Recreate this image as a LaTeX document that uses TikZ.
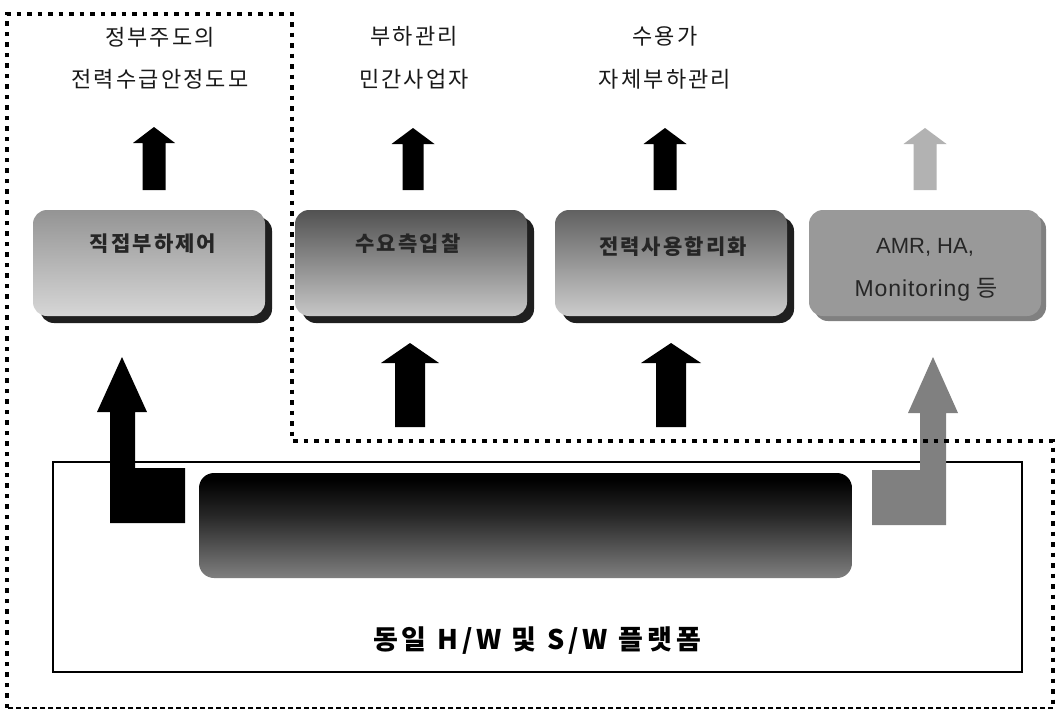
\documentclass[tikz,border=0pt]{standalone}
\usepackage{fontspec}
\setmainfont{Noto Sans CJK KR}
\newfontfamily\latinfont{Liberation Sans}
\usetikzlibrary{shadows}
\pgfdeclareverticalshading{barshade}{100bp}{color(0bp)=(black!45); color(25bp)=(black!50); color(55bp)=(black!85); color(72bp)=(black); color(100bp)=(black)}
\tikzset{
  toplabel/.style={font=\fontsize{22}{26}\selectfont\addfontfeature{LetterSpace=10}, inner sep=0pt, text=black!90},
  boxtext/.style={font=\fontsize{21}{25}\selectfont\bfseries\addfontfeature{LetterSpace=10}, inner sep=0pt, text=black!85},
  panel/.style={rounded corners=14pt, minimum width=232pt, minimum height=106pt, inner sep=0pt,
    drop shadow={shadow xshift=7pt, shadow yshift=-7pt, fill=black!88, opacity=1}},
  lightpanel/.style={rounded corners=14pt, minimum width=232pt, minimum height=106pt, inner sep=0pt,
    drop shadow={shadow xshift=5pt, shadow yshift=-5pt, fill=black!50, opacity=1}},
  dotline/.style={line width=3.6pt, dash pattern=on 4.5pt off 6pt},
  thindash/.style={line width=2.2pt, dash pattern=on 5pt off 3pt},
  pics/uparr/.style args={#1/#2/#3/#4}{code={
    \fill (-#2/2,0) -- (-#2/2,-#1+#4) -- (-#3/2,-#1+#4) -- (0,-#1) -- (#3/2,-#1+#4) -- (#2/2,-#1+#4) -- (#2/2,0) -- cycle;}}
}
\begin{document}
\begin{tikzpicture}[x=1pt,y=-1pt]
\useasboundingbox (0,0) rectangle (1056,712);
\fill[white] (0,0) rectangle (1056,712);

% top labels
\node[toplabel] (la1) at (160,37) {정부주도의};
\node[toplabel] (lb1) at (160,79) {전력수급안정도모};
\node[toplabel] (la2) at (414,36) {부하관리};
\node[toplabel] (lb2) at (414,79) {민간사업자};
\node[toplabel] (la3) at (665,36) {수용가};
\node[toplabel] (lb3) at (665,79) {자체부하관리};

% small arrows
\pic[black] at (154,190) {uparr=63/23/42/16};
\pic[black] at (413,190) {uparr=62/21/43/16};
\pic[black] at (665,190) {uparr=62/23/43/16};
\pic[black!30] at (925,190) {uparr=62/23/43/16};

% panels
\node[panel, top color=black!42, bottom color=black!16] (b1) at (149,263) {};
\node[panel, top color=black!68, bottom color=black!22] (b2) at (411,263) {};
\node[panel, top color=black!62, bottom color=black!20] (b3) at (671,263) {};
\node[lightpanel, fill=black!40] (b4) at (925,263) {};

\node[boxtext] (t1) at (153,244) {직접부하제어};
\node[boxtext] (t2) at (408,244) {수요측입찰};
\node[boxtext] (t3) at (673,247) {전력사용합리화};
\node[font=\fontsize{22}{26}\selectfont\latinfont, inner sep=0pt, text=black!85] (t4a) at (925,247) {AMR, HA,};
\node[font=\fontsize{23}{27}\selectfont\addfontfeature{LetterSpace=4}, inner sep=0pt, text=black!85] (t4b) at (926,290) {{\latinfont\addfontfeature{LetterSpace=4} Monitoring} 등};

% middle arrows
\pic[black] at (410,427) {uparr=84/30/58/20};
\pic[black] at (671,427) {uparr=84/30/60/20};

% platform
\node[draw, line width=1.4pt, minimum width=969pt, minimum height=210pt, inner sep=0pt] (plate) at (537.5,567) {};
\node[rounded corners=15pt, minimum width=653pt, minimum height=105pt, inner sep=0pt, shading=barshade] (bar) at (525.5,525.5) {};
\node[font=\fontsize{27}{32}\selectfont\bfseries\addfontfeature{LetterSpace=15}, inner sep=0pt] (plat) at (537,641) {동일 H/W 및 S/W 플랫폼};

% L-shaped arrows
\fill[black] (110,523) -- (110,412) -- (97,412) -- (122,357) -- (147,412) -- (135,412) -- (135,468) -- (185,468) -- (185,523) -- cycle;
\fill[black!50] (946,525) -- (946,413) -- (958,413) -- (933,357) -- (908,413) -- (920,413) -- (920,470) -- (872,470) -- (872,525) -- cycle;

% dotted outline
\coordinate (o1) at (7,708);
\coordinate (o2) at (7,14);
\coordinate (o3) at (292,14);
\coordinate (o4) at (292,441);
\coordinate (o5) at (1053,441);
\coordinate (o6) at (1053,708);
\draw[dotline] (o1) -- (o2) -- (o3) -- (o4) -- (o5) -- (o6);
\draw[thindash] (o6) -- (o1);
\end{tikzpicture}
\end{document}
